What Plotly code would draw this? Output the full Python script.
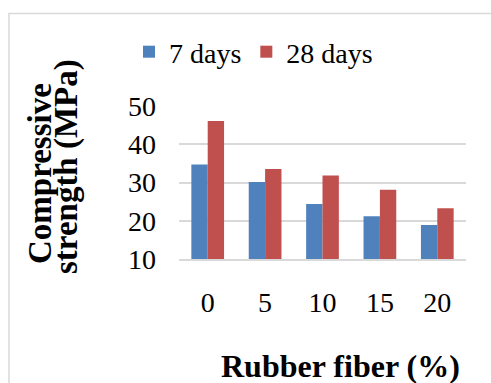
import plotly.graph_objects as go

categories = ["0", "5", "10", "15", "20"]
days7 = [34.7, 30.1, 24.4, 21.2, 18.9]
days28 = [46.1, 33.5, 31.8, 28.1, 23.3]
series_names = ["7 days", "28 days"]
y_ticks = [10, 20, 30, 40, 50]

W, H = 491, 383
L, R, T, B = 179, 25, 106, 124
pw, ph = W - L - R, H - T - B

def px_x(px):
    return (px - L) / pw

def px_y(py):
    return (H - B - py) / ph

FONT = "Liberation Serif"

fig = go.Figure()
fig.add_trace(go.Bar(x=categories, y=days7, name=series_names[0],
                     marker=dict(color="#4F81BD", line=dict(width=0))))
fig.add_trace(go.Bar(x=categories, y=days28, name=series_names[1],
                     marker=dict(color="#C0504D", line=dict(width=0))))

fig.update_layout(
    width=W, height=H,
    margin=dict(l=L, r=R, t=T, b=B, pad=0),
    paper_bgcolor="white", plot_bgcolor="white",
    barmode="group", bargap=0.43, bargroupgap=0,
    font=dict(family=FONT, size=28, color="black"),
    legend=dict(orientation="h", x=px_x(129), y=px_y(52), xanchor="left", yanchor="middle",
                font=dict(family=FONT, size=28), bgcolor="rgba(0,0,0,0)",
                itemwidth=30, tracegroupgap=0),
    xaxis=dict(type="category", showgrid=False, showline=True, linecolor="#d9d9d9", linewidth=1.5,
               ticks="", tickfont=dict(family=FONT, size=28), ticklabelstandoff=18),
    yaxis=dict(range=[10, 50], tickvals=y_ticks, showgrid=True, gridcolor="#d9d9d9", gridwidth=1.5,
               zeroline=False, showline=False, ticks="", tickfont=dict(family=FONT, size=28),
               ticklabelstandoff=22),
    showlegend=True,
)

# chart border (light grey), starting inside the canvas and running off the right/bottom
fig.add_shape(type="rect", xref="paper", yref="paper",
              x0=px_x(9), x1=px_x(W + 20), y0=px_y(H + 20), y1=px_y(13.5),
              line=dict(color="#d9d9d9", width=1.5), fillcolor="rgba(0,0,0,0)", layer="below")

fig.add_annotation(text="<b>Rubber fiber (%)</b>", xref="paper", yref="paper",
                   x=px_x(340), y=px_y(366), xanchor="center", yanchor="middle", showarrow=False,
                   font=dict(family=FONT, size=32, color="black"))
fig.add_annotation(text="<b>Compressive</b>", xref="paper", yref="paper",
                   x=px_x(40), y=px_y(174), xanchor="center", yanchor="middle", showarrow=False,
                   textangle=-90, font=dict(family=FONT, size=33, color="black"))
fig.add_annotation(text="<b>strength (MPa)</b>", xref="paper", yref="paper",
                   x=px_x(66), y=px_y(167), xanchor="center", yanchor="middle", showarrow=False,
                   textangle=-90, font=dict(family=FONT, size=33, color="black"))

fig.write_html("out.html")
